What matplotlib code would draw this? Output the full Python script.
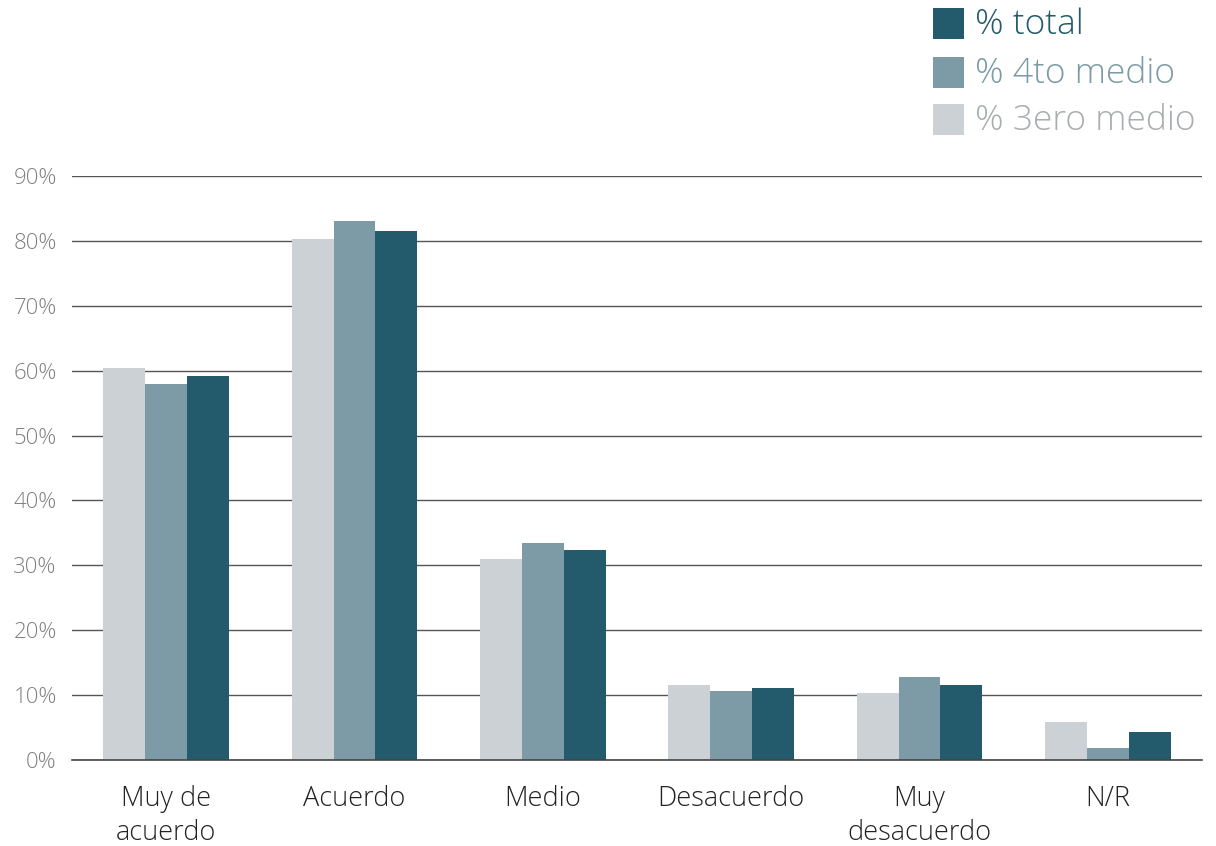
import matplotlib
matplotlib.use("Agg")
import matplotlib.pyplot as plt
from matplotlib.patches import Rectangle
import numpy as np

categories = ["Muy de\nacuerdo", "Acuerdo", "Medio", "Desacuerdo", "Muy\ndesacuerdo", "N/R"]
tercero = [60.4, 80.3, 31.0, 11.5, 10.3, 5.8]
cuarto = [57.9, 83.1, 33.5, 10.7, 12.8, 1.8]
total = [59.2, 81.5, 32.3, 11.1, 11.5, 4.3]
series_names = ["% 3ero medio", "% 4to medio", "% total"]
yticks = [0, 10, 20, 30, 40, 50, 60, 70, 80, 90]

c3 = "#CBD1D5"
c4 = "#7C9BA6"
ct = "#245B6C"
text3 = "#A9ADB0"

plt.rcParams['font.family'] = ['Open Sans', 'DejaVu Sans']

fig = plt.figure(figsize=(12.16, 8.46), dpi=100)
ax = fig.add_axes([72/1216, 86/846, 1130/1216, 584/846])

x = np.arange(len(categories))
w = 0.223
ax.bar(x - w, tercero, width=w, color=c3, zorder=3)
ax.bar(x, cuarto, width=w, color=c4, zorder=3)
ax.bar(x + w, total, width=w, color=ct, zorder=3)

ax.set_xlim(-0.5, len(categories) - 0.5)
ax.set_ylim(0, 90)
ax.set_yticks(yticks)
ax.set_yticklabels([f"{v}%" for v in yticks], color="#808080", fontsize=16, fontweight='light')
ax.set_xticks(x)
ax.set_xticklabels(categories, color="#222222", fontsize=19.5, linespacing=1.27, fontweight='light')
ax.tick_params(axis='both', length=0)
ax.tick_params(axis='y', pad=11)
ax.tick_params(axis='x', pad=18)
ax.yaxis.grid(True, color="#555555", linewidth=1.0, zorder=0)
ax.axhline(0, color="#444444", linewidth=1.2, zorder=4, clip_on=False)
ax.set_axisbelow(True)
for s in ax.spines.values():
    s.set_visible(False)

# Legend (manual)
leg = [("% total", ct, ct, 8), ("% 4to medio", c4, c4, 57), ("% 3ero medio", c3, text3, 104)]
for label, fc, tc, ytop in leg:
    fig.patches.append(Rectangle((933/1216, 1 - (ytop + 31)/846), 31/1216, 31/846,
                                 transform=fig.transFigure, facecolor=fc, edgecolor='none'))
    fig.text(975/1216, 1 - (ytop + 17)/846, label, color=tc, fontsize=25.5, va='center', ha='left',
             fontweight='light')

fig.savefig("out.png", dpi=100)
